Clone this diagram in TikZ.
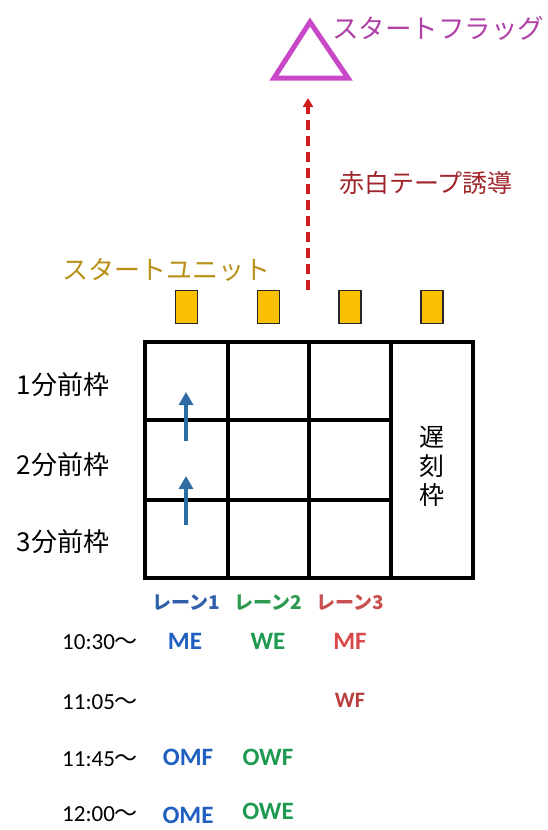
\documentclass[tikz,border=0pt]{standalone}
\usepackage{fontspec}
\setmainfont{Carlito}
\newfontfamily\jp{Noto Sans CJK JP}
\usetikzlibrary{arrows.meta}
\definecolor{flagc}{HTML}{C848C8}
\definecolor{flagt}{HTML}{B040A8}
\definecolor{tapec}{HTML}{D01C1C}
\definecolor{tapet}{HTML}{A0262C}
\definecolor{unitt}{HTML}{B8901A}
\definecolor{unitf}{HTML}{F8C000}
\definecolor{arrc}{HTML}{2E6DA4}
\definecolor{laneA}{HTML}{2F5FA8}
\definecolor{laneB}{HTML}{2E9A50}
\definecolor{laneC}{HTML}{C85050}
\definecolor{evA}{HTML}{1F5FC0}
\definecolor{evB}{HTML}{1E9A50}
\definecolor{evC}{HTML}{D84848}
\begin{document}
\begin{tikzpicture}[x=1pt,y=-1pt,
  gridline/.style={line width=4pt,black},
  unitbox/.style={draw=black!85,line width=1.6pt,fill=unitf,minimum width=22pt,minimum height=33pt,inner sep=0pt},
  rowlab/.style={font=\jp\fontsize{26}{26}\selectfont},
  lanelab/.style={font=\jp\bfseries\fontsize{19}{19}\selectfont},
  timelab/.style={font=\fontsize{23}{23}\selectfont},
  ev/.style={font=\bfseries\fontsize{25}{25}\selectfont},
  blarrow/.style={arrc,line width=4.5pt,-{Triangle[length=13pt,width=14pt]}}
]
\useasboundingbox (0,0) rectangle (548,830);
% start flag
\draw[flagc,line width=5pt,line join=miter] (310,22) -- (348,78) -- (274,78) -- cycle;
\node[anchor=west,flagt,font=\jp\fontsize{26.5}{26.5}\selectfont,inner sep=0pt] (flag) at (332,28) {スタートフラッグ};
\coordinate (flagbase) at (308,98);
% tape
\node[anchor=west,tapet,font=\jp\fontsize{25}{25}\selectfont,inner sep=0pt] (tape) at (339,183) {赤白テープ誘導};
\coordinate (tapestart) at (308,290);
\draw[tapec,line width=3.2pt,dash pattern=on 10pt off 6pt,-{Triangle[length=9pt,width=10pt]}] (tapestart) -- (flagbase);
% start unit
\node[anchor=west,unitt,font=\jp\fontsize{26}{26}\selectfont,inner sep=0pt] (unit) at (62,270) {スタートユニット};
\node[unitbox] (u1) at (186.5,307) {};
\node[unitbox] (u2) at (268.5,307) {};
\node[unitbox] (u3) at (350,307) {};
\node[unitbox] (u4) at (432,307) {};
% grid
\draw[gridline] (145,342) rectangle (473,578);
\draw[gridline] (228,342) -- (228,578);
\draw[gridline] (309,342) -- (309,578);
\draw[gridline] (391,342) -- (391,578);
\draw[gridline] (145,420) -- (391,420);
\draw[gridline] (145,500) -- (391,500);
\coordinate (a1s) at (186,441);
\coordinate (a1e) at (186,392);
\coordinate (a2s) at (186,525);
\coordinate (a2e) at (186,476);
\draw[blarrow] (a1s) -- (a1e);
\draw[blarrow] (a2s) -- (a2e);
\node[font=\jp\fontsize{25}{25}\selectfont,align=center,inner sep=0pt] (late) at (432,466) {遅\\[4pt]刻\\[4pt]枠};
% row labels
\node[rowlab] (r1) at (63,385) {1分前枠};
\node[rowlab] (r2) at (63,465) {2分前枠};
\node[rowlab] (r3) at (63,542) {3分前枠};
% lane labels
\node[lanelab,laneA] (l1) at (186,603) {レーン1};
\node[lanelab,laneB] (l2) at (268,603) {レーン2};
\node[lanelab,laneC] (l3) at (350,603) {レーン3};
% times
\node[timelab,anchor=west,inner sep=0pt] (t1) at (62,642) {10:30{\jp〜}};
\node[timelab,anchor=west,inner sep=0pt] (t2) at (62,702) {11:05{\jp〜}};
\node[timelab,anchor=west,inner sep=0pt] (t3) at (62,759) {11:45{\jp〜}};
\node[timelab,anchor=west,inner sep=0pt] (t4) at (62,814) {12:00{\jp〜}};
% events
\node[ev,evA] (me) at (185,641) {ME};
\node[ev,evB] (we) at (268,641) {WE};
\node[ev,evC] (mf) at (350,641) {MF};
\node[ev,evC!85!black,font=\bfseries\fontsize{22}{22}\selectfont] (wf) at (350,700) {WF};
\node[ev,evA] (omf) at (188,757) {OMF};
\node[ev,evB] (owf) at (268,757) {OWF};
\node[ev,evA] (ome) at (188,815) {OME};
\node[ev,evB] (owe) at (268,811) {OWE};
\end{tikzpicture}
\end{document}
